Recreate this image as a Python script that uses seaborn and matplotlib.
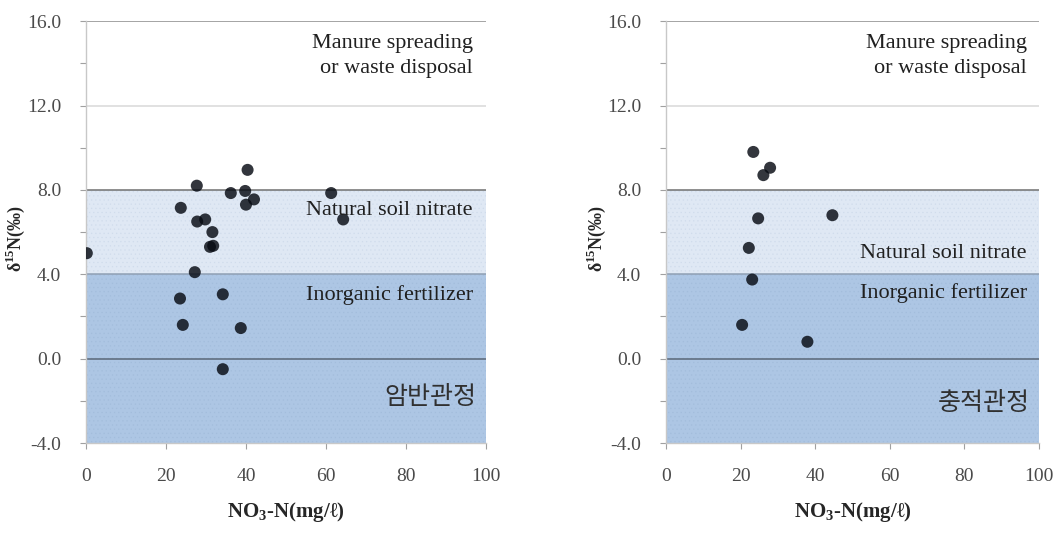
import matplotlib
matplotlib.use('Agg')
import matplotlib.pyplot as plt
import seaborn as sns
import pandas as pd

sns.set_style('white')
plt.rcParams['font.family'] = ['Liberation Serif', 'Noto Sans CJK KR', 'DejaVu Serif']
plt.rcParams['mathtext.fontset'] = 'custom'
plt.rcParams['mathtext.rm'] = 'Liberation Serif'
plt.rcParams['mathtext.bf'] = 'Liberation Serif:bold'
plt.rcParams['hatch.linewidth'] = 0.4

# --- data: 암반관정 (bedrock wells) ---
rock_no3 = [0.2, 27.7, 23.7, 36.2, 39.8, 40.4, 40.0, 42.0, 61.3, 64.3,
            27.8, 29.8, 31.6, 31.0, 31.8, 27.2, 23.5, 24.2, 34.2, 38.7, 34.2]
rock_d15n = [5.0, 8.2, 7.15, 7.85, 7.95, 8.95, 7.3, 7.55, 7.85, 6.6,
             6.5, 6.6, 6.0, 5.3, 5.35, 4.1, 2.85, 1.6, 3.05, 1.45, -0.5]

# --- data: 충적관정 (alluvial wells) ---
allu_no3 = [23.4, 26.1, 27.9, 24.7, 44.6, 22.2, 23.1, 20.4, 37.9]
allu_d15n = [9.8, 8.7, 9.05, 6.65, 6.8, 5.25, 3.75, 1.6, 0.8]

panels = [('암반관정', rock_no3, rock_d15n, 7.0, 3.0, -1.8, -0.1475),
          ('충적관정', allu_no3, allu_d15n, 5.0, 3.1, -2.1, -0.155)]
positions = [[0.0813, 0.1735, 0.378, 0.787], [0.6295, 0.1735, 0.3526, 0.787]]

fig = plt.figure(figsize=(10.58, 5.36), dpi=100)

for (name, xs, ys, y_nat, y_inorg, y_name, ylab_x), pos in zip(panels, positions):
    ax = fig.add_axes(pos)
    df = pd.DataFrame({'no3': xs, 'd15n': ys})

    # source zones
    ax.axhspan(-4, 4, facecolor='#adc6e4', edgecolor='#a3bddc', hatch='....', lw=0, zorder=0)
    ax.axhspan(4, 8, facecolor='#dfe8f4', edgecolor='#d0dcec', hatch='....', lw=0, zorder=0)
    for yv, c in [(16, '#8c8c8c'), (12, '#d9d9d9'), (8, '#707070'), (4, '#8f9fb3'), (0, '#5a6878')]:
        ax.axhline(yv, color=c, lw=1.1, zorder=1)

    sns.scatterplot(data=df, x='no3', y='d15n', ax=ax, color='#060a12', alpha=0.82,
                    s=75, edgecolor='none', zorder=3)

    ax.set_xlim(0, 100)
    ax.set_ylim(-4, 16)
    ax.set_xticks([0, 20, 40, 60, 80, 100])
    ax.set_yticks([-4, 0, 4, 8, 12, 16])
    ax.set_yticks([-2, 2, 6, 10, 14], minor=True)
    ax.set_yticklabels(['%.1f' % v for v in [-4, 0, 4, 8, 12, 16]])
    ax.tick_params(axis='both', which='both', direction='out', length=4, width=0.8,
                   color='#a0a0a0', labelsize=14, labelcolor='#4a4a4a', left=True, bottom=True)
    ax.tick_params(axis='y', pad=14)
    ax.tick_params(axis='x', pad=14)
    for side in ['top', 'right']:
        ax.spines[side].set_visible(False)
    for side in ['left', 'bottom']:
        ax.spines[side].set_color('#c8c8c8')
        ax.spines[side].set_linewidth(1.0)

    ax.set_xlabel(r'NO$_\mathbf{3}$-N(mg/ℓ)', fontsize=15, fontweight='bold', labelpad=11)
    ax.set_ylabel(r'δ$^{\mathbf{15}}$N(‰)', fontsize=13, fontweight='bold')
    ax.yaxis.set_label_coords(ylab_x, 0.485)

    txt = dict(ha='right', va='center', fontsize=16, color='#202020', zorder=4)
    ax.text(96.7, 14.95, 'Manure spreading', **txt)
    ax.text(96.7, 13.75, 'or waste disposal', **txt)
    ax.text(96.7, y_nat, 'Natural soil nitrate', **txt)
    ax.text(96.7, y_inorg, 'Inorganic fertilizer', **txt)
    ax.text(97.5, y_name, name, ha='right', va='center', fontsize=18,
            family=['Noto Sans CJK KR', 'DejaVu Sans'], color='#303030', zorder=4)

fig.savefig('out.png', dpi=100)
